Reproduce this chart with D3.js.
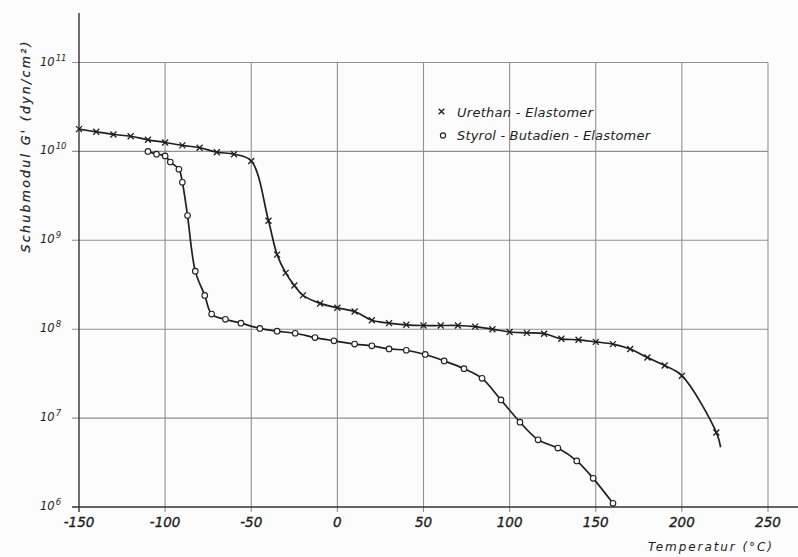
<!DOCTYPE html>
<html>
<head>
<meta charset="utf-8">
<script src="https://cdn.jsdelivr.net/npm/d3@7"></script>
<style>
  html, body { margin: 0; padding: 0; background: #fcfcfc; }
  svg { display: block; }
  text { font-family: "DejaVu Sans", sans-serif; font-style: italic; fill: #1e1e1e; }
</style>
</head>
<body>
<svg id="chart" width="798" height="557"></svg>
<script>
// Axis ticks
const tempTicks = [-150, -100, -50, 0, 50, 100, 150, 200, 250];
const modulusTicks = [1e6, 1e7, 1e8, 1e9, 1e10, 1e11];

// Urethan-Elastomer: temperature (°C) and shear modulus G' (dyn/cm²)
const urethanTemp = [-150, -140, -130, -120, -110, -100, -90, -80, -70, -60, -50,
  -40, -35, -30, -25, -20, -10, 0, 10, 20, 30, 40, 50, 60, 70, 80, 90, 100,
  110, 120, 130, 140, 150, 160, 170, 180, 190, 200, 220];
const urethanG = [1.78e10, 1.66e10, 1.55e10, 1.48e10, 1.35e10, 1.26e10, 1.17e10, 1.10e10, 9.8e9, 9.3e9, 7.8e9,
  1.66e9, 6.9e8, 4.3e8, 3.1e8, 2.4e8, 1.95e8, 1.74e8, 1.58e8, 1.26e8, 1.17e8, 1.12e8, 1.10e8, 1.10e8, 1.10e8, 1.07e8, 1.0e8, 9.3e7,
  9.1e7, 8.9e7, 7.8e7, 7.6e7, 7.2e7, 6.8e7, 6.0e7, 4.8e7, 3.9e7, 3.0e7, 6.9e6];
// The drawn curve runs on a little past the last measured point
const urethanTailTemp = [222.5];
const urethanTailG = [4.7e6];

// Styrol-Butadien-Elastomer
const styrolTemp = [-110, -105, -100, -97, -92, -90, -87, -82.5, -77, -73, -65, -56, -45, -35,
  -24.5, -13, -2, 10, 20, 30, 40, 51, 62, 73.5, 84, 95, 106, 116.5, 128, 139, 148.5, 160];
const styrolG = [1.0e10, 9.3e9, 8.9e9, 7.6e9, 6.3e9, 4.5e9, 1.9e9, 4.5e8, 2.4e8, 1.48e8, 1.29e8, 1.17e8, 1.02e8, 9.5e7,
  9.0e7, 8.05e7, 7.4e7, 6.8e7, 6.5e7, 6.0e7, 5.8e7, 5.2e7, 4.4e7, 3.6e7, 2.8e7, 1.6e7, 9.0e6, 5.7e6, 4.6e6, 3.3e6, 2.1e6, 1.1e6];

const seriesNames = ["Urethan - Elastomer", "Styrol - Butadien - Elastomer"];
const xTitle = "Temperatur (°C)";
const yTitle = "Schubmodul G' (dyn/cm²)";

const svg = d3.select("#chart");
const ink = "#1f1f1f";
const gridInk = "#909090";

const x = d3.scaleLinear().domain([-150, 250]).range([79, 768]);
const y = d3.scaleLog().domain([1e6, 1e11]).range([507, 62.5]);

// Grid
const grid = svg.append("g");
grid.selectAll("line.h").data(modulusTicks.slice(1)).join("line")
  .attr("x1", 72).attr("x2", x(250))
  .attr("y1", d => y(d)).attr("y2", d => y(d))
  .attr("stroke", gridInk).attr("stroke-width", 1.1);
grid.selectAll("line.v").data(tempTicks.slice(1)).join("line")
  .attr("x1", d => x(d)).attr("x2", d => x(d))
  .attr("y1", y(1e11)).attr("y2", y(1e6) + 5)
  .attr("stroke", gridInk).attr("stroke-width", 1.1);

// Axes
svg.append("line").attr("x1", x(-150)).attr("x2", x(-150))
  .attr("y1", 13).attr("y2", y(1e6) + 5)
  .attr("stroke", "#333").attr("stroke-width", 1.4);
svg.append("line").attr("x1", 72).attr("x2", 798)
  .attr("y1", y(1e6)).attr("y2", y(1e6))
  .attr("stroke", "#333").attr("stroke-width", 1.6);

// Tick labels
svg.append("g").selectAll("text").data(tempTicks).join("text")
  .attr("x", d => x(d)).attr("y", 527)
  .attr("text-anchor", "middle")
  .attr("font-size", 13.5)
  .attr("stroke", "#1e1e1e").attr("stroke-width", 0.35)
  .text(d => d);

const yl = svg.append("g").selectAll("text").data(modulusTicks).join("text")
  .attr("x", 40).attr("y", d => y(d) + 3)
  .attr("font-size", 11.5);
yl.append("tspan").text("10");
yl.append("tspan").attr("dy", -5).attr("dx", 1).attr("font-size", 8.5)
  .text(d => Math.round(Math.log10(d)));

// Axis titles
svg.append("text").attr("x", 710).attr("y", 551)
  .attr("text-anchor", "middle").attr("font-size", 12)
  .attr("textLength", 124).attr("lengthAdjust", "spacing")
  .text(xTitle);
svg.append("text")
  .attr("transform", "translate(30,147) rotate(-90)")
  .attr("text-anchor", "middle").attr("font-size", 12.5)
  .attr("stroke", "#1e1e1e").attr("stroke-width", 0.25)
  .attr("textLength", 211).attr("lengthAdjust", "spacing")
  .text(yTitle);

// Curves
const line = d3.line().x(d => x(d[0])).y(d => y(d[1])).curve(d3.curveCatmullRom.alpha(0.5));
const urethanPts = d3.zip(urethanTemp, urethanG);
const urethanCurve = urethanPts.concat(d3.zip(urethanTailTemp, urethanTailG));
const styrolPts = d3.zip(styrolTemp, styrolG);

svg.append("path").datum(urethanCurve).attr("d", line)
  .attr("fill", "none").attr("stroke", ink).attr("stroke-width", 1.7);
svg.append("path").datum(styrolPts).attr("d", line)
  .attr("fill", "none").attr("stroke", ink).attr("stroke-width", 1.7);

function cross(g, cx, cy, s) {
  g.append("path")
    .attr("d", `M${cx - s},${cy - s}L${cx + s},${cy + s}M${cx - s},${cy + s}L${cx + s},${cy - s}`)
    .attr("stroke", ink).attr("stroke-width", 1.3).attr("fill", "none");
}
const crosses = svg.append("g");
urethanPts.forEach(d => cross(crosses, x(d[0]), y(d[1]), 3));

svg.append("g").selectAll("circle").data(styrolPts).join("circle")
  .attr("cx", d => x(d[0])).attr("cy", d => y(d[1])).attr("r", 2.8)
  .attr("fill", "#fcfcfc").attr("stroke", ink).attr("stroke-width", 1.1);

// Legend
const lg = svg.append("g");
cross(lg, 441.5, 111.5, 2.8);
lg.append("circle").attr("cx", 443).attr("cy", 135.5).attr("r", 2.6)
  .attr("fill", "#fcfcfc").attr("stroke", ink).attr("stroke-width", 1.1);
lg.append("text").attr("x", 457).attr("y", 117).attr("font-size", 13)
  .attr("textLength", 136).attr("lengthAdjust", "spacing").text(seriesNames[0]);
lg.append("text").attr("x", 457).attr("y", 140).attr("font-size", 13)
  .attr("textLength", 193).attr("lengthAdjust", "spacing").text(seriesNames[1]);
</script>
</body>
</html>
